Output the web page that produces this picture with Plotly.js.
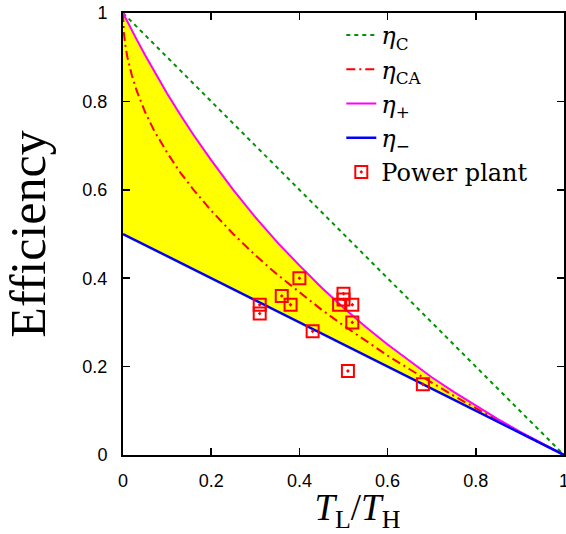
<!DOCTYPE html>
<html><head><meta charset="utf-8">
<script src="https://cdn.plot.ly/plotly-3.0.1.min.js"></script>
<style>html,body{margin:0;padding:0;background:#fff}#chart{width:566px;height:534px}</style>
</head><body><div id="chart"></div>
<script>
// Temperature ratio T_L/T_H samples
const tau = [0, 0.002, 0.005, 0.01, 0.02, 0.03, 0.05, 0.07, 0.1, 0.13, 0.16, 0.2, 0.25, 0.3, 0.35, 0.4, 0.45, 0.5, 0.55, 0.6, 0.65, 0.7, 0.75, 0.8, 0.85, 0.9, 0.95, 1];
// Curzon-Ahlborn efficiency curve
const etaCA = [1, 0.955, 0.929, 0.900, 0.859, 0.827, 0.776, 0.735, 0.684, 0.639, 0.600, 0.553, 0.500, 0.452, 0.408, 0.368, 0.329, 0.293, 0.258, 0.225, 0.194, 0.163, 0.134, 0.106, 0.078, 0.051, 0.025, 0];
// Upper bound eta_+
const etaPlus = [1, 0.996, 0.990, 0.980, 0.961, 0.942, 0.905, 0.869, 0.818, 0.770, 0.724, 0.667, 0.600, 0.538, 0.481, 0.429, 0.379, 0.333, 0.290, 0.250, 0.212, 0.176, 0.143, 0.111, 0.081, 0.053, 0.026, 0];
// Straight lines
const lineX = [0, 1];
const etaC = [1, 0];
const etaMinus = [0.5, 0];
// Power plant observations
const plantX = [0.31, 0.31, 0.36, 0.38, 0.40, 0.43, 0.50, 0.50, 0.49, 0.52, 0.52, 0.51, 0.68];
const plantY = [0.34, 0.32, 0.36, 0.34, 0.40, 0.28, 0.365, 0.352, 0.34, 0.34, 0.30, 0.19, 0.16];
// Tick labels
const tickVals = [0, 0.2, 0.4, 0.6, 0.8, 1];
const tickText = ['0', '0.2', '0.4', '0.6', '0.8', '1'];
const names = ['<i>η</i><sub>C</sub>', '<i>η</i><sub>CA</sub>', '<i>η</i><sub>+</sub>', '<i>η</i><sub>−</sub>', 'Power plant'];

const traces = [
  {x: lineX, y: etaMinus, mode: 'lines', line: {width: 0, color: 'rgba(0,0,0,0)'}, showlegend: false, hoverinfo: 'skip'},
  {x: tau, y: etaPlus, mode: 'lines', fill: 'tonexty', fillcolor: '#ffff00', line: {width: 0, color: 'rgba(0,0,0,0)'}, showlegend: false, hoverinfo: 'skip'},
  {x: lineX, y: etaC, name: names[0], mode: 'lines', line: {color: '#009400', width: 2, dash: '4px,4px'}},
  {x: tau, y: etaCA, name: names[1], mode: 'lines', line: {color: '#ff0000', width: 2, dash: '9px,4px,2px,4px'}},
  {x: tau, y: etaPlus, name: names[2], mode: 'lines', line: {color: '#ff00ff', width: 2}},
  {x: lineX, y: etaMinus, name: names[3], mode: 'lines', line: {color: '#0000ff', width: 2.5}},
  {x: plantX, y: plantY, name: names[4], mode: 'markers', marker: {symbol: 'square-open-dot', size: 12, color: '#ff0000', line: {width: 2, color: '#ff0000'}}}
];

const axisCommon = {
  range: [0, 1], showgrid: false, zeroline: false,
  showline: true, linecolor: '#000', linewidth: 2, mirror: 'ticks',
  ticks: 'inside', ticklen: 7, tickwidth: 1.5, tickcolor: '#000',
  tickvals: tickVals, ticktext: tickText,
  ticklabeloverflow: 'allow',
  tickfont: {family: 'Liberation Sans, Arial, sans-serif', size: 18, color: '#000'},
  fixedrange: true
};

const layout = {
  width: 566, height: 534,
  margin: {l: 123, r: 2, t: 13, b: 79},
  paper_bgcolor: '#fff', plot_bgcolor: '#fff',
  showlegend: true,
  hovermode: false,
  xaxis: Object.assign({}, axisCommon, {
    ticklabelstandoff: 8,
    title: {text: '&nbsp;&nbsp;&nbsp;<i>T</i><sub>L</sub>/<i>T</i><sub>H</sub>', font: {family: 'Liberation Serif, Times New Roman, serif', size: 37, color: '#000'}, standoff: 0}
  }),
  yaxis: Object.assign({}, axisCommon, {
    ticklabelstandoff: 10,
    title: {text: 'Efficiency', font: {family: 'Liberation Serif, Times New Roman, serif', size: 50, color: '#000'}, standoff: 21}
  }),
  legend: {
    x: 0.495, y: 1.0, xanchor: 'left', yanchor: 'top',
    traceorder: 'normal',
    bgcolor: 'rgba(0,0,0,0)', borderwidth: 0,
    font: {family: 'DejaVu Serif, serif', size: 24, color: '#000'},
    tracegroupgap: 0
  }
};

Plotly.newPlot('chart', traces, layout, {displayModeBar: false, staticPlot: true});
</script>
</body></html>
